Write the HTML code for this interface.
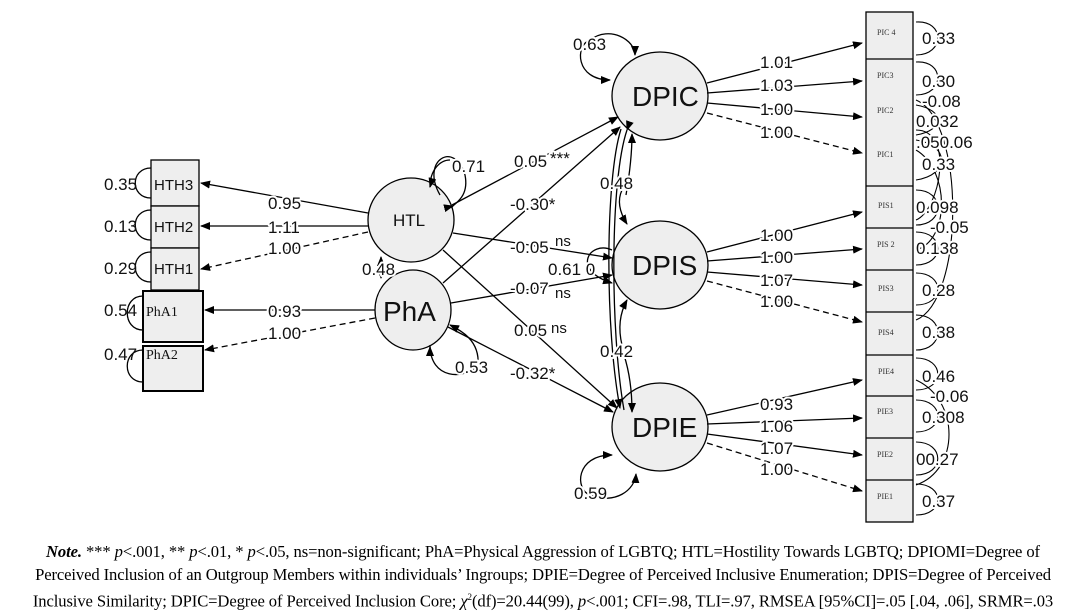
<!DOCTYPE html>
<html><head><meta charset="utf-8"><style>
body{margin:0;background:#fff;width:1086px;height:616px;overflow:hidden}
svg{position:absolute;left:0;top:0}
.n{font-family:"Liberation Sans",sans-serif;font-size:17px;fill:#111}
.h text{stroke:#fff;stroke-width:4px;paint-order:stroke;stroke-linejoin:round}
.note{position:absolute;left:0;top:540px;width:1086px;text-align:center;font-family:"Liberation Serif",serif;font-size:16.6px;line-height:23px;color:#000;letter-spacing:-0.1px}
</style></head><body>
<svg width="1086" height="616" viewBox="0 0 1086 616">
<defs><marker id="a" markerWidth="10" markerHeight="8" refX="9" refY="4" orient="auto" markerUnits="userSpaceOnUse"><path d="M0,0L10,4L0,8z" fill="#000"/></marker></defs>
<g stroke="#000" stroke-width="1.3" fill="none">
<rect x="151" y="160" width="48" height="46" fill="#eee"/>
<rect x="151" y="206" width="48" height="42" fill="#eee"/>
<rect x="151" y="248" width="48" height="42" fill="#eee"/>
<rect x="143" y="291" width="60" height="51" fill="#eee" stroke-width="2"/>
<rect x="143" y="346" width="60" height="45" fill="#eee" stroke-width="2"/>
<rect x="866" y="12" width="47" height="510" fill="#eee"/>
<line x1="866" y1="59" x2="913" y2="59"/><line x1="866" y1="186" x2="913" y2="186"/>
<line x1="866" y1="228" x2="913" y2="228"/><line x1="866" y1="270" x2="913" y2="270"/>
<line x1="866" y1="312" x2="913" y2="312"/><line x1="866" y1="355" x2="913" y2="355"/>
<line x1="866" y1="396" x2="913" y2="396"/><line x1="866" y1="438" x2="913" y2="438"/>
<line x1="866" y1="480" x2="913" y2="480"/>
<ellipse cx="411" cy="220" rx="43" ry="42" fill="#eee"/>
<ellipse cx="413" cy="310" rx="38" ry="40" fill="#eee"/>
<ellipse cx="660" cy="96" rx="48" ry="44" fill="#eee"/>
<ellipse cx="660" cy="265" rx="48" ry="44" fill="#eee"/>
<ellipse cx="660" cy="427" rx="48" ry="44" fill="#eee"/>
<line x1="368" y1="213" x2="201" y2="183" marker-end="url(#a)"/>
<line x1="368" y1="226" x2="201" y2="226" marker-end="url(#a)"/>
<line x1="368" y1="232" x2="201" y2="269" stroke-dasharray="6,4" marker-end="url(#a)"/>
<line x1="375" y1="310" x2="205" y2="310" marker-end="url(#a)"/>
<line x1="375" y1="318" x2="205" y2="350" stroke-dasharray="6,4" marker-end="url(#a)"/>
<line x1="452" y1="205" x2="618" y2="117" marker-end="url(#a)"/>
<line x1="443" y1="283" x2="620" y2="127" marker-end="url(#a)"/>
<line x1="453" y1="233" x2="612" y2="258" marker-end="url(#a)"/>
<line x1="451" y1="303" x2="612" y2="275" marker-end="url(#a)"/>
<line x1="443" y1="250" x2="617" y2="408" marker-end="url(#a)"/>
<line x1="448" y1="327" x2="613" y2="412" marker-end="url(#a)"/>
<line x1="381" y1="270" x2="381" y2="278" marker-end="url(#a)"/>
<line x1="381" y1="266" x2="381" y2="257" marker-end="url(#a)"/>
<path d="M621,129 C605,180 605,330 620,408" marker-end="url(#a)"/>
<path d="M627,130 C610,180 610,330 624,410" marker-start="url(#a)"/>
<path d="M622,190 Q615,205 627,224" marker-end="url(#a)"/>
<path d="M626,195 Q632,160 632,134" marker-end="url(#a)"/>
<path d="M622,345 Q616,320 627,300" marker-end="url(#a)"/>
<path d="M624,355 Q632,380 632,412" marker-end="url(#a)"/>
<path d="M440,195 C420,160 455,140 465,175 C470,200 450,205 452,208"/>
<path d="M449,207 L453,206" marker-end="url(#a)"/>
<path d="M430,187 C430,170 440,160 450,160" /><line x1="432" y1="180" x2="430" y2="187" marker-end="url(#a)"/>
<path d="M430,345 C430,380 465,380 478,365 C480,340 460,330 450,325" marker-end="url(#a)"/>
<line x1="430" y1="355" x2="430" y2="347" marker-end="url(#a)"/>
<path d="M590,40 C575,45 575,80 610,80" marker-end="url(#a)"/>
<path d="M590,40 C610,25 635,40 635,55" marker-end="url(#a)"/>
<path d="M590,495 C575,490 575,455 612,455" marker-end="url(#a)"/>
<path d="M590,495 C615,505 635,490 636,474" marker-end="url(#a)"/>
<path d="M612,250 C590,240 570,270 612,283" marker-end="url(#a)"/>
<line x1="707" y1="83" x2="862" y2="43" marker-end="url(#a)"/>
<line x1="707" y1="93" x2="862" y2="81" marker-end="url(#a)"/>
<line x1="707" y1="103" x2="862" y2="117" marker-end="url(#a)"/>
<line x1="707" y1="113" x2="862" y2="153" stroke-dasharray="6,4" marker-end="url(#a)"/>
<line x1="707" y1="252" x2="862" y2="212" marker-end="url(#a)"/>
<line x1="707" y1="261" x2="862" y2="249" marker-end="url(#a)"/>
<line x1="707" y1="272" x2="862" y2="285" marker-end="url(#a)"/>
<line x1="707" y1="281" x2="862" y2="322" stroke-dasharray="6,4" marker-end="url(#a)"/>
<line x1="707" y1="415" x2="862" y2="380" marker-end="url(#a)"/>
<line x1="707" y1="424" x2="862" y2="418" marker-end="url(#a)"/>
<line x1="707" y1="434" x2="862" y2="455" marker-end="url(#a)"/>
<line x1="707" y1="443" x2="862" y2="491" stroke-dasharray="6,4" marker-end="url(#a)"/>
<path d="M151,168 C130,168 130,198 151,198"/><path d="M151,210 C130,210 130,240 151,240"/><path d="M151,252 C130,252 130,282 151,282"/>
<path d="M143,296 C122,296 122,330 143,330"/><path d="M143,350 C122,350 122,382 143,382"/>
<g stroke-width="1.1">
<path d="M916,22 C945,20 945,55 916,55"/><path d="M916,62 C945,60 945,95 916,95"/>
<path d="M916,105 C945,110 945,130 916,135"/><path d="M916,140 C950,145 950,175 916,180"/>
<path d="M916,190 C945,190 945,225 916,225"/><path d="M916,232 C945,232 945,265 916,265"/>
<path d="M916,273 C945,273 945,305 916,305"/><path d="M916,315 C945,315 945,350 916,350"/>
<path d="M916,358 C945,358 945,390 916,390"/><path d="M916,400 C945,400 945,432 916,432"/>
<path d="M916,442 C945,442 945,475 916,475"/><path d="M916,484 C945,484 945,515 916,515"/>
<path d="M916,100 C965,120 965,300 916,320"/><path d="M916,150 C950,170 950,240 916,250"/>
<path d="M916,380 C960,400 960,470 916,485"/><path d="M916,130 C955,130 940,210 916,220"/>
</g>
</g>
<g class="n h">
<text x="268" y="209">0.95</text>
<text x="268" y="233">1.11</text>
<text x="268" y="254">1.00</text>
<text x="268" y="317">0.93</text>
<text x="268" y="339">1.00</text>
<text x="452" y="172">0.71</text>
<text x="362" y="275">0.48</text>
<text x="455" y="373">0.53</text>
<text x="573" y="50">0.63</text>
<text x="574" y="499">0.59</text>
<text x="514" y="167">0.05</text><text x="550" y="164">***</text>
<text x="510" y="210">-0.30*</text>
<text x="510" y="253">-0.05</text><text x="555" y="246" font-size="15">ns</text>
<text x="510" y="294">-0.07</text><text x="555" y="298" font-size="15">ns</text>
<text x="514" y="336">0.05</text><text x="551" y="333" font-size="15">ns</text>
<text x="510" y="379">-0.32*</text>
<text x="600" y="189">0.48</text>
<text x="600" y="357">0.42</text>
<text x="548" y="275">0.61 0</text>
<text x="760" y="68">1.01</text><text x="760" y="91">1.03</text><text x="760" y="115">1.00</text><text x="760" y="138">1.00</text>
<text x="760" y="241">1.00</text><text x="760" y="263">1.00</text><text x="760" y="286">1.07</text><text x="760" y="307">1.00</text>
<text x="760" y="410">0.93</text><text x="760" y="432">1.06</text><text x="760" y="454">1.07</text><text x="760" y="475">1.00</text>
<text x="922" y="44">0.33</text><text x="922" y="87">0.30</text><text x="922" y="107">-0.08</text>
<text x="916" y="127">0.032</text><text x="916" y="148">.050.06</text><text x="922" y="170">0.33</text>
<text x="916" y="213">0.098</text><text x="930" y="233">-0.05</text><text x="916" y="254">0.138</text>
<text x="922" y="296">0.28</text><text x="922" y="338">0.38</text><text x="922" y="382">0.46</text>
<text x="930" y="402">-0.06</text><text x="922" y="423">0.308</text><text x="916" y="465">00.27</text>
<text x="922" y="507">0.37</text>
</g>
<g class="n">
<text x="104" y="190">0.35</text><text x="104" y="232">0.13</text><text x="104" y="274">0.29</text>
<text x="104" y="316">0.54</text><text x="104" y="360">0.47</text>
<text x="154" y="190" font-size="15">HTH3</text><text x="154" y="232" font-size="15">HTH2</text><text x="154" y="274" font-size="15">HTH1</text>
<text x="146" y="316" font-family="Liberation Serif" font-size="14">PhA1</text>
<text x="146" y="359" font-family="Liberation Serif" font-size="14">PhA2</text>
<text x="393" y="226" font-size="17">HTL</text>
<text x="383" y="321" font-size="28">PhA</text>
<text x="632" y="106" font-size="28">DPIC</text>
<text x="632" y="275" font-size="28">DPIS</text>
<text x="632" y="437" font-size="28">DPIE</text>
<g font-family="Liberation Serif" font-size="8" fill="#333">
<text x="877" y="35">PIC 4</text><text x="877" y="78">PIC3</text><text x="877" y="113">PIC2</text><text x="877" y="157">PIC1</text>
<text x="878" y="208">PIS1</text><text x="877" y="247">PIS 2</text><text x="878" y="291">PIS3</text><text x="878" y="335">PIS4</text>
<text x="878" y="374">PIE4</text><text x="877" y="414">PIE3</text><text x="877" y="457">PIE2</text><text x="877" y="499">PIE1</text>
</g>
</g>
</svg>
<div class="note"><b><i>Note.</i></b> *** <i>p</i>&lt;.001, ** <i>p</i>&lt;.01, * <i>p</i>&lt;.05, ns=non-significant; PhA=Physical Aggression of LGBTQ; HTL=Hostility Towards LGBTQ; DPIOMI=Degree of<br>Perceived Inclusion of an Outgroup Members within individuals’ Ingroups; DPIE=Degree of Perceived Inclusive Enumeration; DPIS=Degree of Perceived<br>Inclusive Similarity; DPIC=Degree of Perceived Inclusion Core; <i>χ</i><sup style="font-size:9px">2</sup>(df)=20.44(99), <i>p</i>&lt;.001; CFI=.98, TLI=.97, RMSEA [95%CI]=.05 [.04, .06], SRMR=.03</div>
</body></html>
